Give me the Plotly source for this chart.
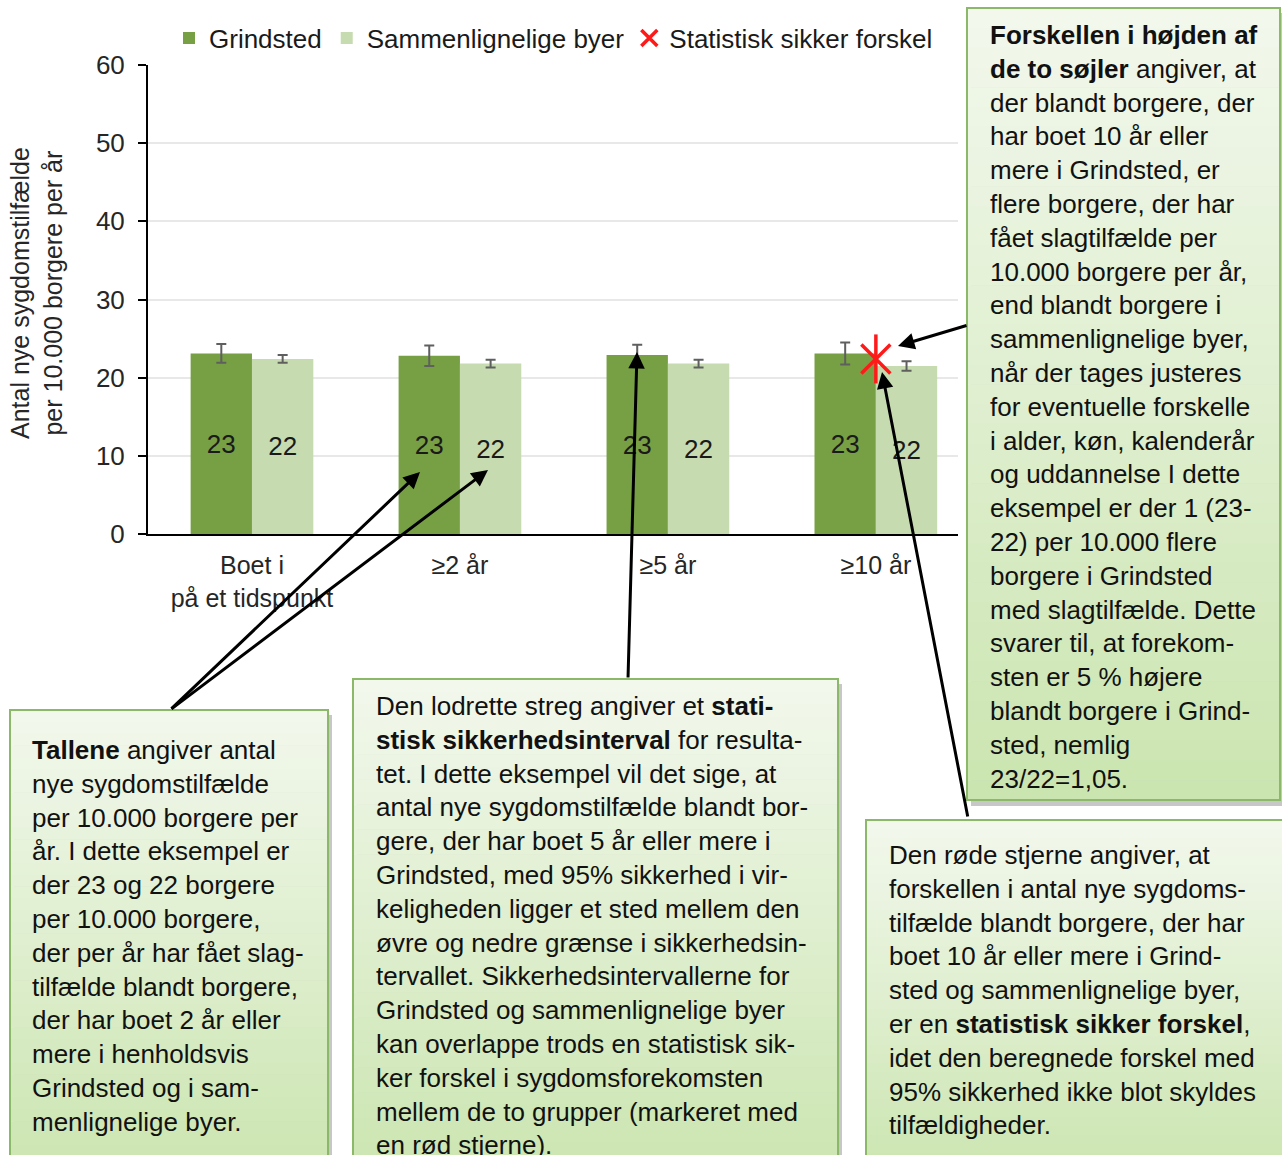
import plotly.graph_objects as go

# --- data ---
kategorier = ["Boet i<br>på et tidspunkt", "≥2 år", "≥5 år", "≥10 år"]
grindsted = [23.1, 22.8, 22.9, 23.1]
grindsted_ci = [1.2, 1.3, 1.3, 1.4]
sammenlignelige = [22.4, 21.8, 21.8, 21.5]
sammenlignelige_ci = [0.5, 0.5, 0.5, 0.6]
signifikant = [None, None, None, 22.4]

y_ticks = [0, 10, 20, 30, 40, 50, 60]

W, H = 1282, 1155
FONT = "Liberation Sans, Arial, sans-serif"

GRON = "#77a044"
LYSGRON = "#c6dcb0"
ROD = "#ff1a1a"


def px(x):
    return x / W


def py(y):
    return 1 - y / H


fig = go.Figure()

fig.add_trace(go.Bar(
    x=kategorier, y=grindsted, name="Grindsted",
    marker=dict(color=GRON, line=dict(width=0)),
    error_y=dict(type="data", array=grindsted_ci, color="#5f5f5f", thickness=2, width=5),
    text=[f"{v:.0f}" for v in grindsted], textposition="inside",
    insidetextanchor="middle", textfont=dict(size=26, color="#1a1a1a"),
))
fig.add_trace(go.Bar(
    x=kategorier, y=sammenlignelige, name="Sammenlignelige byer",
    marker=dict(color=LYSGRON, line=dict(width=0)),
    error_y=dict(type="data", array=sammenlignelige_ci, color="#5f5f5f", thickness=2, width=5),
    text=[f"{v:.0f}" for v in sammenlignelige], textposition="inside",
    insidetextanchor="middle", textfont=dict(size=26, color="#1a1a1a"),
))
# rød stjerne = kryds + lodret streg
fig.add_trace(go.Scatter(
    x=kategorier, y=signifikant, mode="markers", name="Statistisk sikker forskel",
    legendgroup="sig",
    marker=dict(symbol="x-thin-open", size=29, color=ROD, line=dict(color=ROD, width=3.5)),
))
fig.add_trace(go.Scatter(
    x=kategorier, y=signifikant, mode="markers", showlegend=False, legendgroup="sig",
    marker=dict(symbol="line-ns-open", size=35, color=ROD, line=dict(color=ROD, width=3.5)),
))

fig.update_layout(
    width=W, height=H,
    margin=dict(l=0, r=0, t=0, b=0),
    paper_bgcolor="white", plot_bgcolor="white",
    font=dict(family=FONT, size=26, color="#1a1a1a"),
    barmode="group", bargap=0.41, bargroupgap=0,
    legend=dict(orientation="h", x=px(169), xanchor="left", y=py(38), yanchor="middle",
                font=dict(size=26, color="#1a1a1a"), itemsizing="trace",
                bgcolor="rgba(0,0,0,0)", tracegroupgap=0),
    xaxis=dict(domain=[px(148), px(958)], range=[-0.5, 3.395], type="category",
               showline=True, linecolor="black", linewidth=2, ticks="",
               showgrid=False, tickfont=dict(size=25, color="#262626"),
               ticklabelstandoff=8, automargin=False),
    yaxis=dict(domain=[py(534), py(65)], range=[0, 60], tickvals=y_ticks,
               showline=True, linecolor="black", linewidth=2,
               ticks="outside", ticklen=8, tickwidth=2, tickcolor="black",
               showgrid=True, gridcolor="#e8e8e8", gridwidth=2, zeroline=False,
               tickfont=dict(size=26, color="#262626"), ticklabelstandoff=8,
               automargin=False),
)

# y-aksens titel
fig.add_annotation(
    x=px(36), y=py(293), xref="paper", yref="paper", showarrow=False,
    text="Antal nye sygdomstilfælde<br>per 10.000 borgere per år",
    textangle=-90, font=dict(size=25, color="#262626"),
    xanchor="center", yanchor="middle",
)


def tekstboks(x0, y0, x1, y1, linjer, tx, ty, n=40):
    """Grøn boks med lodret farveovergang, skygge og tekst."""
    top = (242, 248, 237)
    bund = (203, 229, 176)
    fig.add_shape(type="rect", xref="paper", yref="paper", layer="above",
                  x0=px(x0 + 4), x1=px(x1 + 4), y0=py(y1 + 6), y1=py(y0 + 5),
                  fillcolor="rgba(0,0,0,0.22)", line_width=0)
    h = (y1 - y0) / n
    for i in range(n):
        t = (i + 0.5) / n
        c = tuple(round(a + (b - a) * t) for a, b in zip(top, bund))
        fig.add_shape(type="rect", xref="paper", yref="paper", layer="above",
                      x0=px(x0), x1=px(x1), y0=py(y0 + (i + 1) * h + 0.5), y1=py(y0 + i * h),
                      fillcolor=f"rgb{c}", line_width=0)
    fig.add_shape(type="rect", xref="paper", yref="paper", layer="above",
                  x0=px(x0), x1=px(x1), y0=py(y1), y1=py(y0),
                  fillcolor="rgba(0,0,0,0)", line=dict(color="#8cb86a", width=2))
    fig.add_annotation(x=px(tx), y=py(ty), xref="paper", yref="paper", showarrow=False,
                       xanchor="left", yanchor="top", align="left",
                       text="<br>".join(linjer), font=dict(size=26, color="#111111"))


tekstboks(967, 8, 1280, 800, [
    "<b>Forskellen i højden af</b>",
    "<b>de to søjler</b> angiver, at",
    "der blandt borgere, der",
    "har boet 10 år eller",
    "mere i Grindsted, er",
    "flere borgere, der har",
    "fået slagtilfælde per",
    "10.000 borgere per år,",
    "end blandt borgere i",
    "sammenlignelige byer,",
    "når der tages justeres",
    "for eventuelle forskelle",
    "i alder, køn, kalenderår",
    "og uddannelse I dette",
    "eksempel er der 1 (23-",
    "22) per 10.000 flere",
    "borgere i Grindsted",
    "med slagtilfælde. Dette",
    "svarer til, at forekom-",
    "sten er 5 % højere",
    "blandt borgere i Grind-",
    "sted, nemlig",
    "23/22=1,05.",
], 988, 18)

tekstboks(10, 710, 328, 1180, [
    "<b>Tallene</b> angiver antal",
    "nye sygdomstilfælde",
    "per 10.000 borgere per",
    "år. I dette eksempel er",
    "der 23 og 22 borgere",
    "per 10.000 borgere,",
    "der per år har fået slag-",
    "tilfælde blandt borgere,",
    "der har boet 2 år eller",
    "mere i henholdsvis",
    "Grindsted og i sam-",
    "menlignelige byer.",
], 30, 733)

tekstboks(353, 679, 838, 1180, [
    "Den lodrette streg angiver et <b>stati-</b>",
    "<b>stisk sikkerhedsinterval</b> for resulta-",
    "tet. I dette eksempel vil det sige, at",
    "antal nye sygdomstilfælde blandt bor-",
    "gere, der har boet 5 år eller mere i",
    "Grindsted, med 95% sikkerhed i vir-",
    "keligheden ligger et sted mellem den",
    "øvre og nedre grænse i sikkerhedsin-",
    "tervallet. Sikkerhedsintervallerne for",
    "Grindsted og sammenlignelige byer",
    "kan overlappe trods en statistisk sik-",
    "ker forskel i sygdomsforekomsten",
    "mellem de to grupper (markeret med",
    "en rød stjerne).",
], 374, 689)

tekstboks(866, 820, 1285, 1180, [
    "Den røde stjerne angiver, at",
    "forskellen i antal nye sygdoms-",
    "tilfælde blandt borgere, der har",
    "boet 10 år eller mere i Grind-",
    "sted og sammenlignelige byer,",
    "er en <b>statistisk sikker forskel</b>,",
    "idet den beregnede forskel med",
    "95% sikkerhed ikke blot skyldes",
    "tilfældigheder.",
], 887, 838)

# pile: (spids x, spids y, hale x, hale y) i pixel
pile = [
    (420, 472, 170, 710),
    (488, 470, 170, 710),
    (637, 352, 628, 679),
    (898, 346, 968, 325),
    (882, 372, 968, 818),
]
for hx, hy, tx, ty in pile:
    fig.add_annotation(x=px(hx), y=py(hy), xref="paper", yref="paper",
                       ax=tx - hx, ay=ty - hy, axref="pixel", ayref="pixel",
                       text="", showarrow=True, arrowhead=2, arrowsize=1.1,
                       arrowwidth=3, arrowcolor="black")

# fjern browserens standardmargin, så figuren fylder hele vinduet
fig.write_html("out.html", config={"displayModeBar": False},
               post_script="document.body.style.margin='0';")
